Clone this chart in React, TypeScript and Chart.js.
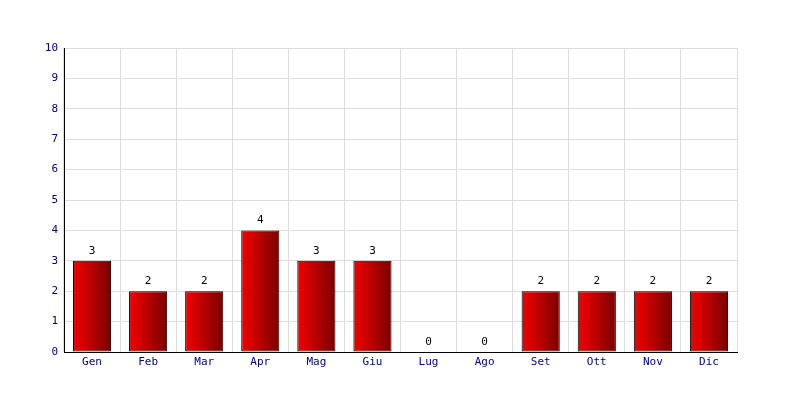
import React, { useEffect, useRef } from "react";
import { Chart, registerables } from "chart.js";

Chart.register(...registerables);

const categories = ["Gen", "Feb", "Mar", "Apr", "Mag", "Giu", "Lug", "Ago", "Set", "Ott", "Nov", "Dic"];
const values = [3, 2, 2, 4, 3, 3, 0, 0, 2, 2, 2, 2];
const yTicks = [0, 1, 2, 3, 4, 5, 6, 7, 8, 9, 10];

const FONT = "'DejaVu Sans Mono', monospace";
const BAR_PCT = 0.68;

const valueLabels = {
  id: "valueLabels",
  afterDatasetsDraw(chart: any) {
    const ctx = chart.ctx;
    const meta = chart.getDatasetMeta(0);
    ctx.save();
    ctx.font = `11px ${FONT}`;
    ctx.fillStyle = "#000000";
    ctx.textAlign = "center";
    ctx.textBaseline = "middle";
    meta.data.forEach((el: any, i: number) => {
      ctx.fillText(String(values[i]), el.x, el.y - 10);
    });
    ctx.restore();
  },
};

export default function App() {
  const ref = useRef<HTMLCanvasElement>(null);
  useEffect(() => {
    document.body.style.margin = "0";
    const c = ref.current!;
    const chart = new Chart(c, {
      type: "bar",
      data: {
        labels: categories,
        datasets: [
          {
            data: values,
            borderColor: "#000000",
            borderWidth: 1,
            borderSkipped: false,
            barPercentage: BAR_PCT,
            categoryPercentage: 1,
            backgroundColor: (context: any) => {
              const ch = context.chart;
              const xs = ch.scales && ch.scales.x;
              if (!xs || context.dataIndex === undefined) return "#c00000";
              const cx = xs.getPixelForValue(context.dataIndex);
              const w = (xs.width / categories.length) * BAR_PCT;
              if (!isFinite(cx) || !isFinite(w) || w <= 0) return "#c00000";
              const g = ch.ctx.createLinearGradient(cx - w / 2, 0, cx + w / 2, 0);
              g.addColorStop(0, "#f50000");
              g.addColorStop(1, "#780000");
              return g;
            },
          },
        ],
      },
      options: {
        responsive: false,
        animation: false,
        layout: { padding: { left: 0, top: 48, right: 63, bottom: 0 } },
        plugins: { legend: { display: false }, tooltip: { enabled: false } },
        scales: {
          x: {
            grid: { color: "#dddddd", drawTicks: false, offset: true },
            border: { color: "#000000", width: 1 },
            ticks: { color: "#000080", font: { family: FONT, size: 11 }, padding: 4 },
            afterFit: (s: any) => {
              s.height = 48;
            },
          },
          y: {
            min: 0,
            max: 10,
            grid: { color: "#dddddd", drawTicks: false },
            border: { color: "#000000", width: 1 },
            afterBuildTicks: (s: any) => {
              s.ticks = yTicks.map((v) => ({ value: v }));
            },
            ticks: { color: "#000080", font: { family: FONT, size: 11 }, padding: 6 },
            afterFit: (s: any) => {
              s.width = 64;
            },
          },
        },
      },
      plugins: [valueLabels],
    });
    return () => chart.destroy();
  }, []);
  return (
    <div style={{ width: 800, height: 400, background: "#ffffff" }}>
      <canvas ref={ref} width={800} height={400} />
    </div>
  );
}
